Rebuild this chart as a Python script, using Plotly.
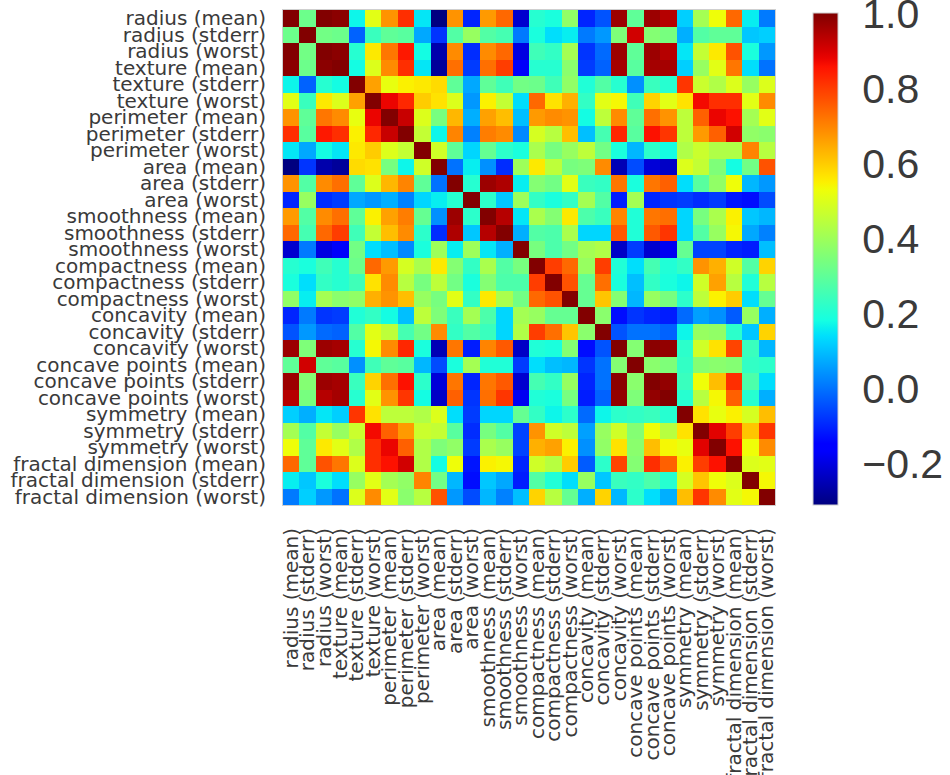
import numpy as np
import plotly.graph_objects as go

# Feature labels (row/column order of the correlation matrix)
feature_labels = [
    "radius (mean)", "radius (stderr)", "radius (worst)",
    "texture (mean)", "texture (stderr)", "texture (worst)",
    "perimeter (mean)", "perimeter (stderr)", "perimeter (worst)",
    "area (mean)", "area (stderr)", "area (worst)",
    "smoothness (mean)", "smoothness (stderr)", "smoothness (worst)",
    "compactness (mean)", "compactness (stderr)", "compactness (worst)",
    "concavity (mean)", "concavity (stderr)", "concavity (worst)",
    "concave points (mean)", "concave points (stderr)", "concave points (worst)",
    "symmetry (mean)", "symmetry (stderr)", "symmetry (worst)",
    "fractal dimension (mean)", "fractal dimension (stderr)", "fractal dimension (worst)",
]

# Pairwise correlation coefficients
corr = [
    [1.00, 0.32, 1.00, 0.99, 0.17, 0.51, 0.68, 0.82, 0.15, -0.31, 0.68, -0.10, 0.67, 0.74, -0.22, 0.21, 0.19, 0.38, -0.10, -0.04, 0.97, 0.30, 0.97, 0.94, 0.12, 0.41, 0.53, 0.74, 0.16, 0.01],
    [0.32, 1.00, 0.33, 0.32, -0.02, 0.24, 0.30, 0.29, 0.07, -0.08, 0.28, 0.39, 0.28, 0.26, 0.01, 0.19, 0.14, 0.16, 0.01, 0.05, 0.35, 0.91, 0.36, 0.34, 0.08, 0.28, 0.30, 0.30, 0.11, 0.12],
    [1.00, 0.33, 1.00, 0.99, 0.21, 0.56, 0.72, 0.85, 0.18, -0.26, 0.69, -0.09, 0.69, 0.74, -0.20, 0.25, 0.23, 0.41, -0.08, -0.01, 0.97, 0.30, 0.97, 0.94, 0.15, 0.46, 0.56, 0.77, 0.19, 0.05],
    [0.99, 0.32, 0.99, 1.00, 0.18, 0.50, 0.69, 0.82, 0.15, -0.28, 0.73, -0.07, 0.73, 0.80, -0.17, 0.21, 0.21, 0.37, -0.07, -0.02, 0.96, 0.29, 0.96, 0.96, 0.12, 0.39, 0.51, 0.72, 0.14, 0.00],
    [0.17, -0.02, 0.21, 0.18, 1.00, 0.66, 0.52, 0.55, 0.56, 0.58, 0.30, 0.07, 0.30, 0.25, 0.33, 0.32, 0.25, 0.38, 0.20, 0.28, 0.21, 0.04, 0.24, 0.21, 0.81, 0.47, 0.43, 0.50, 0.39, 0.50],
    [0.51, 0.24, 0.56, 0.50, 0.66, 1.00, 0.88, 0.83, 0.60, 0.57, 0.50, 0.05, 0.55, 0.46, 0.14, 0.74, 0.57, 0.64, 0.23, 0.51, 0.54, 0.25, 0.59, 0.51, 0.57, 0.87, 0.82, 0.82, 0.51, 0.69],
    [0.68, 0.30, 0.72, 0.69, 0.52, 0.88, 1.00, 0.92, 0.50, 0.34, 0.63, 0.08, 0.66, 0.62, 0.10, 0.67, 0.69, 0.68, 0.18, 0.45, 0.69, 0.30, 0.73, 0.68, 0.45, 0.75, 0.88, 0.86, 0.41, 0.51],
    [0.82, 0.29, 0.85, 0.82, 0.55, 0.83, 0.92, 1.00, 0.46, 0.17, 0.70, 0.02, 0.71, 0.69, 0.03, 0.49, 0.44, 0.62, 0.10, 0.26, 0.83, 0.29, 0.86, 0.81, 0.45, 0.67, 0.75, 0.91, 0.38, 0.37],
    [0.15, 0.07, 0.18, 0.15, 0.56, 0.60, 0.50, 0.46, 1.00, 0.48, 0.30, 0.13, 0.31, 0.22, 0.19, 0.42, 0.34, 0.39, 0.45, 0.33, 0.19, 0.09, 0.22, 0.18, 0.43, 0.47, 0.43, 0.43, 0.70, 0.44],
    [-0.31, -0.08, -0.26, -0.28, 0.58, 0.57, 0.34, 0.17, 0.48, 1.00, 0.00, 0.16, 0.04, -0.09, 0.40, 0.56, 0.45, 0.34, 0.35, 0.69, -0.25, -0.05, -0.21, -0.23, 0.50, 0.46, 0.35, 0.18, 0.33, 0.77],
    [0.68, 0.28, 0.69, 0.73, 0.30, 0.50, 0.63, 0.70, 0.30, 0.00, 1.00, 0.21, 0.97, 0.95, 0.16, 0.36, 0.33, 0.51, 0.24, 0.23, 0.72, 0.19, 0.72, 0.75, 0.14, 0.29, 0.38, 0.53, 0.09, 0.05],
    [-0.10, 0.39, -0.09, -0.07, 0.07, 0.05, 0.08, 0.02, 0.13, 0.16, 0.21, 1.00, 0.22, 0.11, 0.40, 0.23, 0.19, 0.23, 0.41, 0.28, -0.11, 0.41, -0.10, -0.08, -0.07, -0.09, -0.07, -0.12, -0.13, -0.05],
    [0.67, 0.28, 0.69, 0.73, 0.30, 0.55, 0.66, 0.71, 0.31, 0.04, 0.97, 0.22, 1.00, 0.94, 0.15, 0.42, 0.36, 0.56, 0.27, 0.24, 0.70, 0.20, 0.72, 0.73, 0.13, 0.34, 0.42, 0.55, 0.11, 0.09],
    [0.74, 0.26, 0.74, 0.80, 0.25, 0.46, 0.62, 0.69, 0.22, -0.09, 0.95, 0.11, 0.94, 1.00, 0.08, 0.28, 0.27, 0.42, 0.13, 0.13, 0.76, 0.20, 0.76, 0.81, 0.13, 0.28, 0.39, 0.54, 0.07, 0.02],
    [-0.22, 0.01, -0.20, -0.17, 0.33, 0.14, 0.10, 0.03, 0.19, 0.40, 0.16, 0.40, 0.15, 0.08, 1.00, 0.34, 0.27, 0.33, 0.41, 0.43, -0.23, -0.07, -0.22, -0.18, 0.31, -0.06, -0.06, -0.10, -0.11, 0.10],
    [0.21, 0.19, 0.25, 0.21, 0.32, 0.74, 0.67, 0.49, 0.42, 0.56, 0.36, 0.23, 0.42, 0.28, 0.34, 1.00, 0.80, 0.74, 0.39, 0.80, 0.20, 0.14, 0.26, 0.20, 0.23, 0.68, 0.64, 0.48, 0.28, 0.59],
    [0.19, 0.14, 0.23, 0.21, 0.25, 0.57, 0.69, 0.44, 0.34, 0.45, 0.33, 0.19, 0.36, 0.27, 0.27, 0.80, 1.00, 0.77, 0.31, 0.73, 0.19, 0.10, 0.23, 0.19, 0.17, 0.48, 0.66, 0.44, 0.20, 0.44],
    [0.38, 0.16, 0.41, 0.37, 0.38, 0.64, 0.68, 0.62, 0.39, 0.34, 0.51, 0.23, 0.56, 0.42, 0.33, 0.74, 0.77, 1.00, 0.31, 0.61, 0.36, 0.09, 0.39, 0.34, 0.22, 0.45, 0.55, 0.60, 0.14, 0.31],
    [-0.10, 0.01, -0.08, -0.07, 0.20, 0.23, 0.18, 0.10, 0.45, 0.35, 0.24, 0.41, 0.27, 0.13, 0.41, 0.39, 0.31, 0.31, 1.00, 0.37, -0.13, -0.08, -0.10, -0.11, -0.01, 0.06, 0.04, -0.03, 0.39, 0.08],
    [-0.04, 0.05, -0.01, -0.02, 0.28, 0.51, 0.45, 0.26, 0.33, 0.69, 0.23, 0.28, 0.24, 0.13, 0.43, 0.80, 0.73, 0.61, 0.37, 1.00, -0.04, -0.00, -0.00, -0.02, 0.17, 0.39, 0.38, 0.22, 0.11, 0.59],
    [0.97, 0.35, 0.97, 0.96, 0.21, 0.54, 0.69, 0.83, 0.19, -0.25, 0.72, -0.11, 0.70, 0.76, -0.23, 0.20, 0.19, 0.36, -0.13, -0.04, 1.00, 0.36, 0.99, 0.98, 0.22, 0.48, 0.57, 0.79, 0.24, 0.09],
    [0.30, 0.91, 0.30, 0.29, 0.04, 0.25, 0.30, 0.29, 0.09, -0.05, 0.19, 0.41, 0.20, 0.20, -0.07, 0.14, 0.10, 0.09, -0.08, -0.00, 0.36, 1.00, 0.37, 0.35, 0.23, 0.36, 0.37, 0.36, 0.23, 0.22],
    [0.97, 0.36, 0.97, 0.96, 0.24, 0.59, 0.73, 0.86, 0.22, -0.21, 0.72, -0.10, 0.72, 0.76, -0.22, 0.26, 0.23, 0.39, -0.10, -0.00, 0.99, 0.37, 1.00, 0.98, 0.24, 0.53, 0.62, 0.82, 0.27, 0.14],
    [0.94, 0.34, 0.94, 0.96, 0.21, 0.51, 0.68, 0.81, 0.18, -0.23, 0.75, -0.08, 0.73, 0.81, -0.18, 0.20, 0.19, 0.34, -0.11, -0.02, 0.98, 0.35, 0.98, 1.00, 0.21, 0.44, 0.54, 0.75, 0.21, 0.08],
    [0.12, 0.08, 0.15, 0.12, 0.81, 0.57, 0.45, 0.45, 0.43, 0.50, 0.14, -0.07, 0.13, 0.13, 0.31, 0.23, 0.17, 0.22, -0.01, 0.17, 0.22, 0.23, 0.24, 0.21, 1.00, 0.57, 0.52, 0.55, 0.49, 0.62],
    [0.41, 0.28, 0.46, 0.39, 0.47, 0.87, 0.75, 0.67, 0.47, 0.46, 0.29, -0.09, 0.34, 0.28, -0.06, 0.68, 0.48, 0.45, 0.06, 0.39, 0.48, 0.36, 0.53, 0.44, 0.57, 1.00, 0.89, 0.80, 0.61, 0.81],
    [0.53, 0.30, 0.56, 0.51, 0.43, 0.82, 0.88, 0.75, 0.43, 0.35, 0.38, -0.07, 0.42, 0.39, -0.06, 0.64, 0.66, 0.55, 0.04, 0.38, 0.57, 0.37, 0.62, 0.54, 0.52, 0.89, 1.00, 0.86, 0.53, 0.69],
    [0.74, 0.30, 0.77, 0.72, 0.50, 0.82, 0.86, 0.91, 0.43, 0.18, 0.53, -0.12, 0.55, 0.54, -0.10, 0.48, 0.44, 0.60, -0.03, 0.22, 0.79, 0.36, 0.82, 0.75, 0.55, 0.80, 0.86, 1.00, 0.50, 0.51],
    [0.16, 0.11, 0.19, 0.14, 0.39, 0.51, 0.41, 0.38, 0.70, 0.33, 0.09, -0.13, 0.11, 0.07, -0.11, 0.28, 0.20, 0.14, 0.39, 0.11, 0.24, 0.23, 0.27, 0.21, 0.49, 0.61, 0.53, 0.50, 1.00, 0.54],
    [0.01, 0.12, 0.05, 0.00, 0.50, 0.69, 0.51, 0.37, 0.44, 0.77, 0.05, -0.05, 0.09, 0.02, 0.10, 0.59, 0.44, 0.31, 0.08, 0.59, 0.09, 0.22, 0.14, 0.08, 0.62, 0.81, 0.69, 0.51, 0.54, 1.00],
]

colorbar_ticks = [-0.2, 0.0, 0.2, 0.4, 0.6, 0.8, 1.0]


def jet_colorscale(n=65):
    """Matplotlib-style 'jet' colormap as a Plotly colorscale."""
    xs = np.linspace(0, 1, n)
    r = np.interp(xs, [0, 0.35, 0.66, 0.89, 1], [0, 0, 1, 1, 0.5])
    g = np.interp(xs, [0, 0.125, 0.375, 0.64, 0.91, 1], [0, 0, 1, 1, 0, 0])
    b = np.interp(xs, [0, 0.11, 0.34, 0.65, 1], [0.5, 1, 1, 0, 0])
    return [[float(x), f"rgb({int(round(rr*255))},{int(round(gg*255))},{int(round(bb*255))})"]
            for x, rr, gg, bb in zip(xs, r, g, b)]


z = np.array(corr)
zmin = float(z.min())
# a hair above the maximum so the 1.0 tick is kept on the colorbar
zmax = float(z.max()) + 0.002

text_color = "#3a3a3a"
label_font = dict(family="DejaVu Sans", size=20, color=text_color)

fig = go.Figure(
    go.Heatmap(
        z=z,
        x=feature_labels,
        y=feature_labels,
        zmin=zmin,
        zmax=zmax,
        colorscale=jet_colorscale(),
        hovertemplate="%{y} / %{x}: %{z:.2f}<extra></extra>",
        colorbar=dict(
            thickness=25,
            thicknessmode="pixels",
            len=492,
            lenmode="pixels",
            x=1.077,
            xanchor="left",
            y=0,
            yanchor="bottom",
            xpad=0,
            ypad=0,
            outlinecolor="#cfcfcf",
            outlinewidth=1,
            tickmode="array",
            tickvals=colorbar_ticks,
            ticktext=[f"{v:.1f}".replace("-", "\u2212") for v in colorbar_ticks],
            ticks="outside",
            ticklen=16,
            tickcolor="rgba(0,0,0,0)",
            ticklabeloverflow="allow",
            tickfont=dict(family="Liberation Sans", size=41, color=text_color),
        ),
    )
)

fig.update_layout(
    width=950,
    height=775,
    margin=dict(l=283, r=175, t=10, b=270, autoexpand=False),
    paper_bgcolor="white",
    plot_bgcolor="white",
)

fig.update_xaxes(
    tickmode="array",
    tickvals=feature_labels,
    ticktext=feature_labels,
    tickangle=-90,
    tickfont=label_font,
    showgrid=False,
    zeroline=False,
    ticks="",
    ticklabelstandoff=14,
    showline=True,
    mirror=True,
    linecolor="#cfcfcf",
    linewidth=1,
    automargin=False,
)
fig.update_yaxes(
    tickmode="array",
    tickvals=feature_labels,
    ticktext=feature_labels,
    autorange="reversed",
    tickfont=label_font,
    showgrid=False,
    zeroline=False,
    ticks="",
    ticklabelstandoff=12,
    showline=True,
    mirror=True,
    linecolor="#cfcfcf",
    linewidth=1,
    automargin=False,
)

fig.write_html("out.html")
